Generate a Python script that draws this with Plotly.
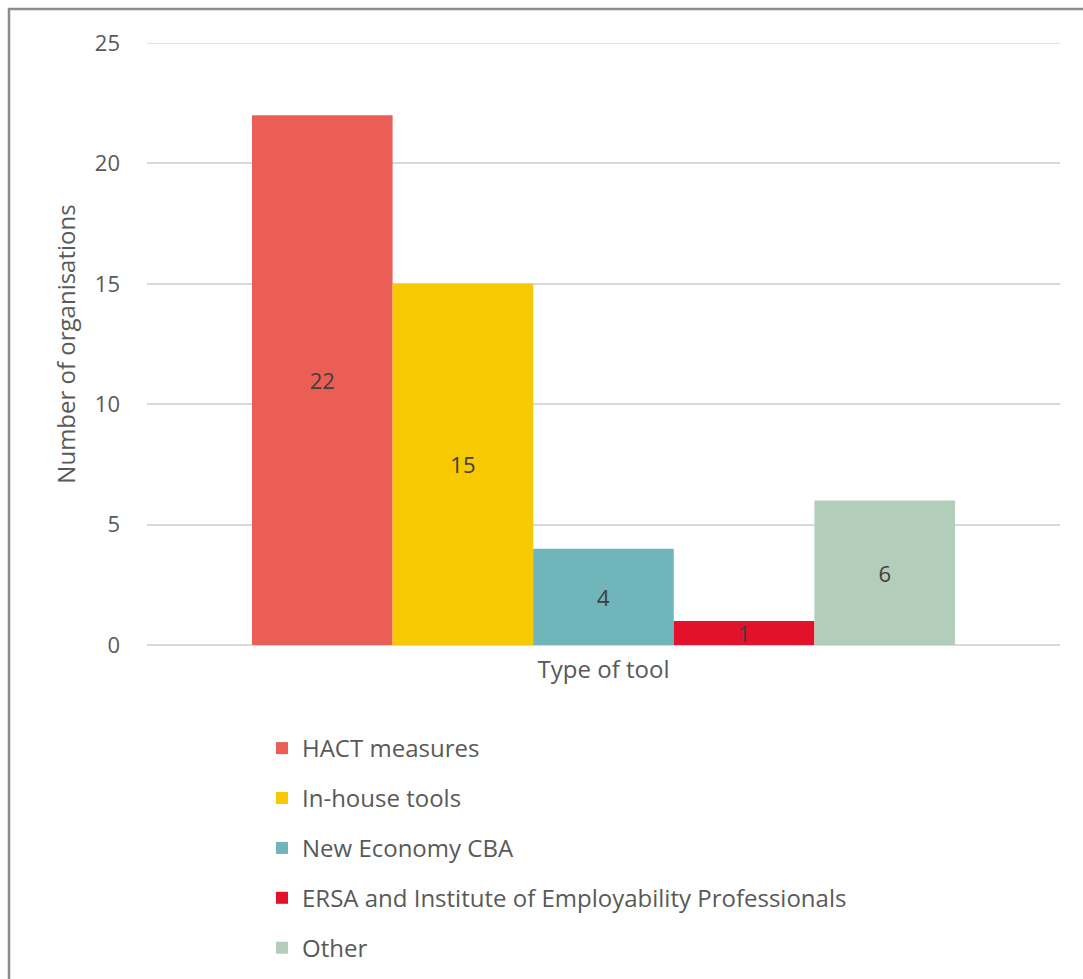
import plotly.graph_objects as go

# Survey results: which tools organisations use to measure social value
category = ["Type of tool"]
series_names = [
    "HACT measures",
    "In-house tools",
    "New Economy CBA",
    "ERSA and Institute of Employability Professionals",
    "Other",
]
series_values = [22, 15, 4, 1, 6]
series_colors = ["#EB5E55", "#F6C900", "#6FB5BA", "#E3122A", "#B2CDB9"]
y_ticks = [0, 5, 10, 15, 20, 25]

FONT = "'Open Sans', 'Noto Sans', sans-serif"
TEXT_COLOR = "#595959"
GRID = "#D9D9D9"

fig = go.Figure()
for i, (name, val, col) in enumerate(zip(series_names, series_values, series_colors)):
    fig.add_trace(go.Bar(
        name=name,
        x=category,
        y=[val],
        marker=dict(color=col, line=dict(width=0)),
        text=[str(val)],
        textposition="inside",
        insidetextanchor="middle",
        textangle=0,
        constraintext="none",
        textfont=dict(family=FONT, size=22, color="#404040"),
        legendgroup=f"g{i}",
    ))

# plot-area geometry in pixels, used to place the outer frame
W, H = 1083, 979
L, R, T, B = 147, 23, 43, 334
pw, ph = W - L - R, H - T - B

def px_to_paper_x(px):
    return (px - L) / pw

def px_to_paper_y(py):
    return (H - B - py) / ph

fig.update_layout(
    width=W, height=H,
    margin=dict(l=L, r=R, t=T, b=B, autoexpand=False),
    paper_bgcolor="white",
    plot_bgcolor="white",
    barmode="group",
    bargap=0.23,
    bargroupgap=0,
    font=dict(family=FONT, size=22, color=TEXT_COLOR),
    showlegend=True,
    legend=dict(
        orientation="v",
        x=px_to_paper_x(262), xanchor="left",
        y=px_to_paper_y(726), yanchor="top",
        font=dict(family=FONT, size=24, color=TEXT_COLOR),
        tracegroupgap=15.7,
        traceorder="grouped",
        bgcolor="rgba(0,0,0,0)",
    ),
    xaxis=dict(
        showgrid=False,
        showline=False,
        ticks="",
        automargin=False,
        ticklabelstandoff=8,
        tickfont=dict(family=FONT, size=24, color=TEXT_COLOR),
    ),
    yaxis=dict(
        range=[0, 25],
        tickvals=y_ticks,
        showgrid=True,
        gridcolor=GRID,
        gridwidth=1.5,
        zeroline=True,
        zerolinecolor=GRID,
        zerolinewidth=2,
        showline=False,
        ticks="",
        automargin=False,
        ticklabelstandoff=26,
        tickfont=dict(family=FONT, size=22, color=TEXT_COLOR),
        title=dict(text="Number of organisations",
                   font=dict(family=FONT, size=24, color=TEXT_COLOR),
                   standoff=12),
    ),
    shapes=[
        # top gridline at the end of the value range
        dict(type="line", xref="paper", yref="y", x0=0, x1=1,
             y0=y_ticks[-1], y1=y_ticks[-1],
             line=dict(color=GRID, width=1.5), layer="below"),
        # outer chart frame
        dict(type="rect", xref="paper", yref="paper",
             x0=px_to_paper_x(9), x1=px_to_paper_x(W + 20),
             y0=px_to_paper_y(H + 20), y1=px_to_paper_y(9),
             line=dict(color="#8C8C8C", width=2.5),
             fillcolor="rgba(0,0,0,0)", layer="below"),
    ],
)

fig.write_html("out.html")
